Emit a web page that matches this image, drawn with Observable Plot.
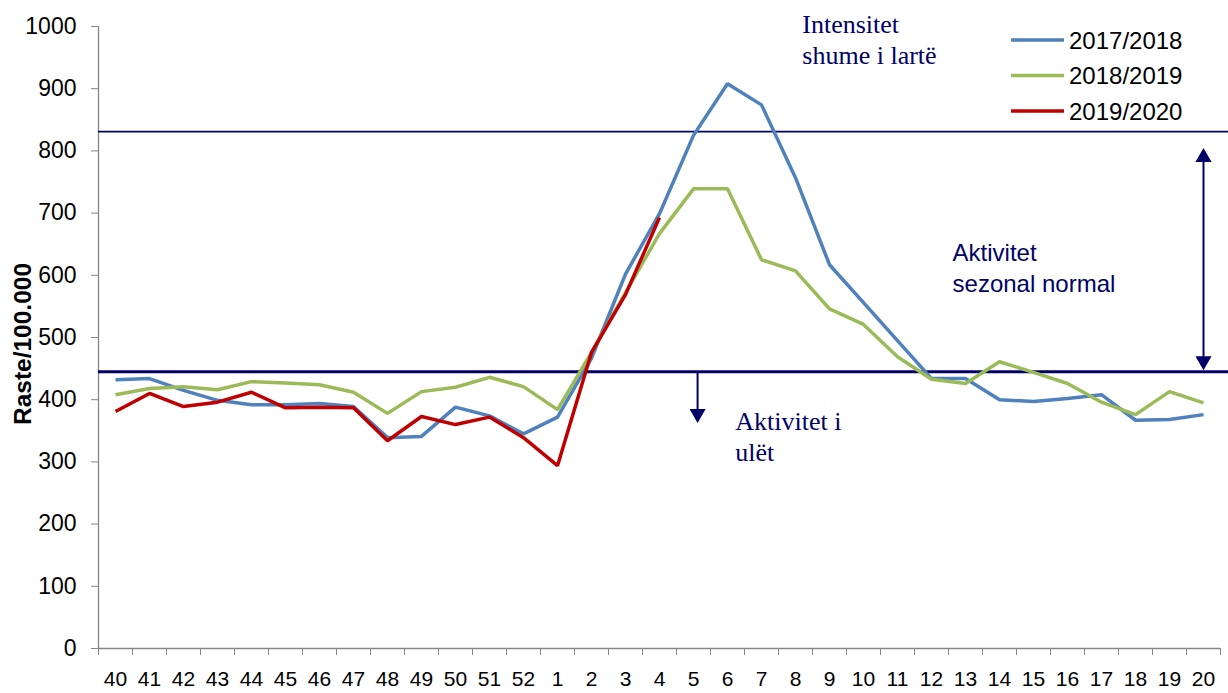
<!DOCTYPE html>
<html>
<head>
<meta charset="utf-8">
<script src="https://cdn.jsdelivr.net/npm/d3@7"></script>
<script src="https://cdn.jsdelivr.net/npm/@observablehq/plot@0.6"></script>
<style>
  html, body { margin: 0; padding: 0; background: #fff; }
  #chart svg { display: block; }
</style>
</head>
<body>
<div id="chart"></div>
<script>
// ---- data ----
const weeks = ["40","41","42","43","44","45","46","47","48","49","50","51","52",
  "1","2","3","4","5","6","7","8","9","10","11","12","13","14","15","16","17","18","19","20"];
const s1718 = [432,434,415,399,392,392,394,389,339,341,388,374,345,
  372,467,602,699,825,908,874,757,617,556,495,434,434,400,397,402,408,367,368,376];
const s1819 = [408,418,421,416,429,427,424,412,378,413,420,436,421,
  384,476,572,667,739,739,625,607,546,521,469,433,426,461,444,426,396,376,413,395];
const s1920 = [381,410,389,396,412,387,388,387,334,373,360,372,339,
  294,476,569,693];
const seriesNames = ["2017/2018", "2018/2019", "2019/2020"];
const seriesColors = ["#4f81bd", "#9bbb59", "#c00000"];
const yTicks = [0,100,200,300,400,500,600,700,800,900,1000];
const thresholdHigh = 831;
const thresholdLow = 445;
const labelHigh = "Intensitet\nshume i lartë";
const labelNormal = "Aktivitet\nsezonal normal";
const labelLow = "Aktivitet i\nulët";
const yLabel = "Raste/100.000";

const navy = "#000066";
const axisGray = "#868686";

const rows = [];
[s1718, s1819, s1920].forEach((vals, k) => {
  vals.forEach((v, i) => { if (v != null) rows.push({ i, week: weeks[i], value: v, series: seriesNames[k] }); });
});
const idx = weeks.map((w, i) => i);
const bounds = d3.range(weeks.length + 1).map(i => i - 0.5);
const lastIdx = weeks.length - 1;

const W = 1228, H = 693, mL = 98, mR = 0, mT = 26, mB = 45;
const band = 34; // px per week
const xMax = -0.5 + (W - mL - mR) / band;

const plot = Plot.plot({
  width: W, height: H,
  marginLeft: mL, marginRight: mR, marginTop: mT, marginBottom: mB,
  x: { type: "linear", domain: [-0.5, xMax] },
  y: { domain: [0, 1000] },
  color: { domain: seriesNames, range: seriesColors },
  style: { fontFamily: "'Liberation Sans', Arial, sans-serif", background: "white", color: "black" },
  marks: [
    // axes
    Plot.ruleX([-0.5], { y1: 0, y2: 1000, stroke: axisGray, strokeWidth: 1.3 }),
    Plot.ruleY([0], { x1: -0.5, x2: lastIdx + 0.5, stroke: axisGray, strokeWidth: 1.3 }),
    Plot.axisY(yTicks, { tickSize: 7, tickPadding: 15, fontSize: 23, tickFormat: d => String(d), stroke: axisGray, fill: "black", label: null }),
    Plot.axisX(bounds, { tickSize: 7, tickFormat: () => "", stroke: axisGray, label: null }),
    Plot.axisX(idx, { tickSize: 0, tickPadding: 23, fontSize: 21, tickFormat: i => weeks[i], fill: "black", label: null }),
    // thresholds
    Plot.ruleY([thresholdHigh], { stroke: navy, strokeWidth: 1.6 }),
    Plot.ruleY([thresholdLow], { stroke: navy, strokeWidth: 3 }),
    // series
    Plot.line(rows, { x: "i", y: "value", stroke: "series", strokeWidth: 3.5, strokeLinejoin: "miter", strokeLinecap: "butt" }),
    // arrows
    Plot.link([{ x: lastIdx, y1: thresholdLow + 8, y2: 795 }], { x1: "x", x2: "x", y1: "y1", y2: "y2", stroke: navy, strokeWidth: 2 }),
    Plot.dot([{ x: lastIdx, y: 804 }], { x: "x", y: "y", symbol: "triangle", r: 6, fill: navy, stroke: null, dy: 9 }),
    Plot.dot([{ x: lastIdx, y: thresholdLow + 3 }], { x: "x", y: "y", symbol: "triangle", r: 6, fill: navy, stroke: null, dy: -9, rotate: 180 }),
    Plot.link([{ x: 17.12, y1: thresholdLow, y2: 372 }], { x1: "x", x2: "x", y1: "y1", y2: "y2", stroke: navy, strokeWidth: 2 }),
    Plot.dot([{ x: 17.12, y: 363 }], { x: "x", y: "y", symbol: "triangle", r: 6, fill: navy, stroke: null, dy: -9, rotate: 180 }),
    // annotations
    Plot.text([labelHigh], { x: 20.2, y: 981, text: d => d, textAnchor: "start", lineAnchor: "middle", lineHeight: 1.2,
      fontFamily: "'Liberation Serif', 'Times New Roman', serif", fontSize: 26, fill: navy }),
    Plot.text([labelNormal], { x: 24.62, y: 614, text: d => d, textAnchor: "start", lineAnchor: "middle", lineHeight: 1.3,
      fontSize: 24, fill: navy }),
    Plot.text([labelLow], { x: 18.23, y: 343, text: d => d, textAnchor: "start", lineAnchor: "middle", lineHeight: 1.2,
      fontFamily: "'Liberation Serif', 'Times New Roman', serif", fontSize: 26, fill: navy })
  ]
});

document.getElementById("chart").appendChild(plot);

// y label and legend
const svg = d3.select(plot);
svg.append("text")
  .attr("transform", "translate(31,344) rotate(-90)")
  .attr("text-anchor", "middle")
  .attr("font-family", "'Liberation Sans', Arial, sans-serif")
  .attr("font-weight", "bold")
  .attr("font-size", 24.5)
  .attr("fill", "black")
  .text(yLabel);

const lg = svg.append("g").attr("class", "legend").attr("text-anchor", "start");
seriesNames.forEach((name, k) => {
  const cy = 40 + k * 35.5;
  lg.append("line").attr("x1", 1011).attr("x2", 1064).attr("y1", cy).attr("y2", cy)
    .attr("stroke", seriesColors[k]).attr("stroke-width", 3.5);
  lg.append("text").attr("x", 1069).attr("y", cy).attr("dy", "0.36em")
    .attr("text-anchor", "start")
    .attr("font-family", "'Liberation Sans', Arial, sans-serif").attr("font-size", 24)
    .attr("fill", "black").text(name);
});
</script>
</body>
</html>
